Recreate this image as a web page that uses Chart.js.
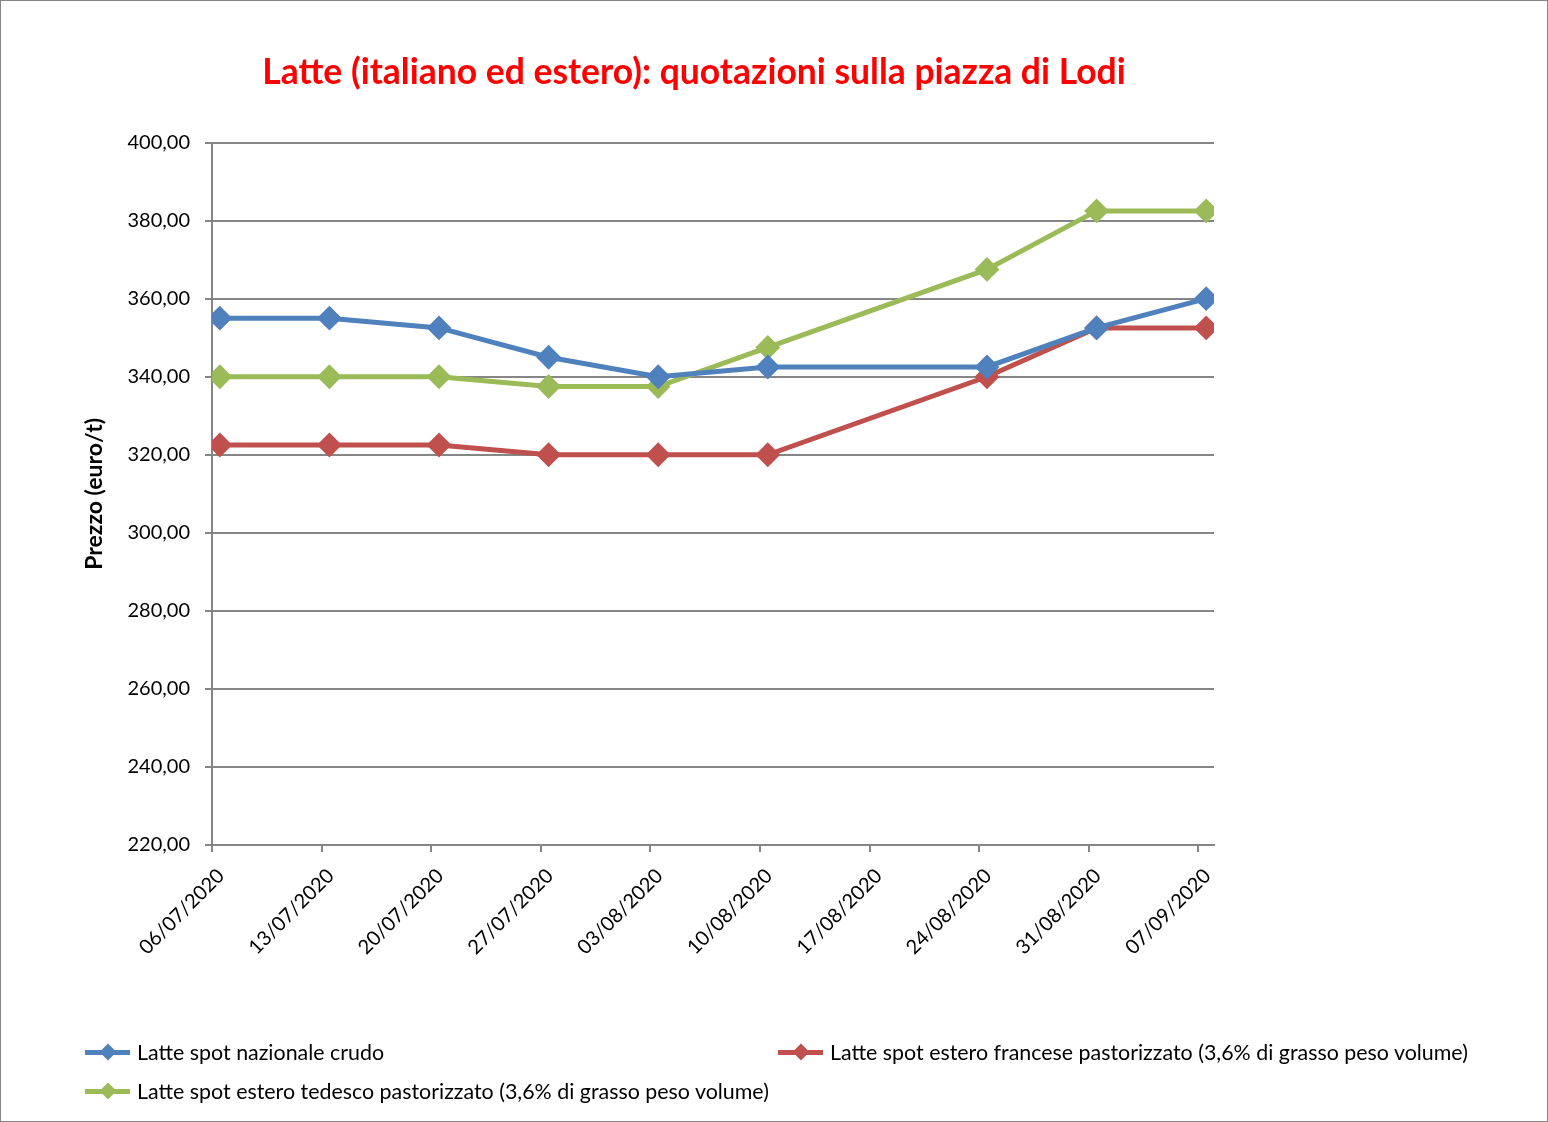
<!DOCTYPE html>
<html>
<head>
<meta charset="utf-8">
<title>Latte - quotazioni Lodi</title>
<script src="https://cdn.jsdelivr.net/npm/chart.js@4.4.1/dist/chart.umd.min.js"></script>
<style>
    body { margin: 0; background: #fff; }
    #wrap { position: relative; width: 1546px; height: 1120px; border: 1px solid #868686; background: #fff; }
    #chart { position: absolute; left: 0; top: 0; }
    .legend-item { position: absolute; display: flex; align-items: center; height: 24px;
        font-family: Lato, "Noto Sans", sans-serif; font-size: 21.4px; color: #000; white-space: nowrap; }
    .legend-marker { position: relative; width: 45px; height: 24px; margin-right: 7px; }
    .legend-marker .line { position: absolute; left: 0; right: 0; top: 10px; height: 5px; }
    .legend-marker .dia { position: absolute; left: 17px; top: 6px; width: 12px; height: 12px; transform: rotate(45deg); }
</style>
</head>
<body>
<div id="wrap">
    <canvas id="chart" width="1546" height="1120"></canvas>
</div>
<script>
// date delle quotazioni (17/08 senza quotazione)
const dates = ['06/07/2020', '13/07/2020', '20/07/2020', '27/07/2020', '03/08/2020',
               '10/08/2020', '17/08/2020', '24/08/2020', '31/08/2020', '07/09/2020'];

// prezzi in euro/t
const nazionale = [355, 355, 352.5, 345, 340, 342.5, null, 342.5, 352.5, 360];
const francese = [322.5, 322.5, 322.5, 320, 320, 320, null, 340, 352.5, 352.5];
const tedesco = [340, 340, 340, 337.5, 337.5, 347.5, null, 367.5, 382.5, 382.5];

const seriesNames = [
    'Latte spot nazionale crudo',
    'Latte spot estero francese pastorizzato (3,6% di grasso peso volume)',
    'Latte spot estero tedesco pastorizzato (3,6% di grasso peso volume)'
];

const yMin = 220;
const yMax = 400;
const yStep = 20;

// giorni dal primo giorno (asse temporale come in Excel)
function dayIndex(str) {
    const [d, m, y] = str.split('/').map(Number);
    const t0 = Date.UTC(2020, 6, 6);
    return Math.round((Date.UTC(y, m - 1, d) - t0) / 86400000);
}

function toPoints(values) {
    // il punto sta al centro del giorno
    return values.map((v, i) => ({ x: dayIndex(dates[i]) + 0.5, y: v }));
}

const FONT = 'Lato, "Noto Sans", sans-serif';
const GRID = '#868686';

function makeDataset(label, values, color) {
    return {
        label: label,
        data: toPoints(values),
        borderColor: color,
        backgroundColor: color,
        borderWidth: 5,
        pointStyle: 'rectRot',
        pointRadius: 11,
        pointBorderWidth: 2,
        pointBorderColor: color,
        pointBackgroundColor: color,
        spanGaps: true,
        tension: 0
    };
}

const datasets = [
    makeDataset(seriesNames[0], nazionale, '#4F81BD'),
    makeDataset(seriesNames[1], francese, '#C0504D'),
    makeDataset(seriesNames[2], tedesco, '#9BBB59')
];

const lastDay = dayIndex(dates[dates.length - 1]);

const chart = new Chart(document.getElementById('chart'), {
    type: 'line',
    data: { datasets: datasets },
    options: {
        responsive: false,
        animation: false,
        layout: {
            padding: { left: 78, right: 238, top: 0, bottom: 150 }
        },
        plugins: {
            legend: { display: false },
            tooltip: { enabled: false },
            title: {
                display: true,
                text: 'Latte (italiano ed estero): quotazioni sulla piazza di Lodi',
                color: '#FF0000',
                font: { family: FONT, size: 35.5, weight: 'bold' },
                padding: { top: 50, bottom: 49 }
            }
        },
        scales: {
            x: {
                type: 'linear',
                min: 0,
                max: lastDay + 1,
                afterBuildTicks: (scale) => {
                    scale.ticks = dates.map(d => ({ value: dayIndex(d) }));
                },
                afterFit: (scale) => {
                    scale.height = 126;
                },
                ticks: {
                    minRotation: 45,
                    maxRotation: 45,
                    autoSkip: false,
                    padding: 12,
                    labelOffset: 9,
                    color: '#000',
                    font: { family: FONT, size: 20 },
                    callback: (value) => {
                        const i = dates.findIndex(d => dayIndex(d) === value);
                        return i >= 0 ? dates[i] : '';
                    }
                },
                grid: {
                    drawOnChartArea: false,
                    drawTicks: true,
                    tickLength: 7,
                    color: GRID,
                    lineWidth: 2
                },
                border: { display: true, color: GRID, width: 2 }
            },
            y: {
                min: yMin,
                max: yMax,
                afterFit: (scale) => {
                    scale.width = 211 - 78;
                },
                ticks: {
                    stepSize: yStep,
                    padding: 15,
                    color: '#000',
                    font: { family: FONT, size: 20 },
                    callback: (value) => value.toFixed(2).replace('.', ',')
                },
                grid: {
                    color: GRID,
                    lineWidth: 2,
                    tickLength: 7
                },
                border: { display: true, color: GRID, width: 2 },
                title: {
                    display: true,
                    text: 'Prezzo (euro/t)',
                    color: '#000',
                    font: { family: FONT, size: 23, weight: 'bold' },
                    padding: { top: 2, bottom: 4 }
                }
            },
            // spazio vuoto a destra del grafico (come nell'originale)
            spacer: {
                position: 'right',
                ticks: { display: false },
                grid: { display: false },
                border: { display: false },
                afterFit: (scale) => {
                    scale.width = 1546 - 238 - 1213;
                }
            }
        }
    }
});

// legenda HTML in due colonne, come nell'originale
const legendPos = [
    { left: 84, top: 1039 },
    { left: 777, top: 1039 },
    { left: 84, top: 1078 }
];
const wrap = document.getElementById('wrap');
chart.data.datasets.forEach((ds, i) => {
    const item = document.createElement('div');
    item.className = 'legend-item';
    item.style.left = legendPos[i].left + 'px';
    item.style.top = legendPos[i].top + 'px';
    item.innerHTML = `<span class="legend-marker"><span class="line" style="background:${ds.borderColor}"></span>` +
        `<span class="dia" style="background:${ds.borderColor}"></span></span><span>${ds.label}</span>`;
    wrap.appendChild(item);
});
</script>
</body>
</html>
